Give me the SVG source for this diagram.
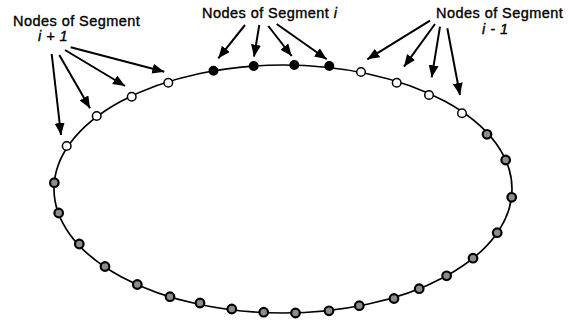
<svg xmlns="http://www.w3.org/2000/svg" width="570" height="324" viewBox="0 0 570 324">
<defs>
<style>
.lbl{font-family:"Liberation Sans",Arial,sans-serif;font-size:14.5px;letter-spacing:0.45px;fill:#000;stroke:#000;stroke-width:0.35px}
.it{font-style:italic}
.ring{fill:none;stroke:#000;stroke-width:1.7}
.arr{stroke:#000;stroke-width:2;fill:none;marker-end:url(#ah)}
.open{fill:#fff;stroke:#000;stroke-width:1.5}
.full{fill:#000;stroke:#000;stroke-width:1.4}
.shad{fill:#8c8c8c;stroke:#000;stroke-width:2.2}
</style>
<marker id="ah" viewBox="0 0 12 10" refX="12" refY="5" markerWidth="12" markerHeight="10" markerUnits="userSpaceOnUse" orient="auto">
<path d="M0,0 L12,5 L0,10 z" fill="#000"/>
</marker>
</defs>
<rect width="570" height="324" fill="#fff"/>
<g id="ring"><ellipse class="ring" cx="283" cy="189" rx="229" ry="124"/></g>
<g id="connectors">
<line class="arr" x1="51.7" y1="54" x2="61" y2="135"/>
<line class="arr" x1="59.3" y1="55" x2="90" y2="108.3"/>
<line class="arr" x1="65" y1="50" x2="125" y2="86"/>
<line class="arr" x1="70.7" y1="47.3" x2="164.3" y2="71.7"/>
<line class="arr" x1="245" y1="25" x2="218.3" y2="58.3"/>
<line class="arr" x1="259.3" y1="25" x2="254" y2="56.7"/>
<line class="arr" x1="268.3" y1="26" x2="291.7" y2="56"/>
<line class="arr" x1="276.7" y1="24" x2="326.7" y2="59.3"/>
<line class="arr" x1="430" y1="20.7" x2="367.3" y2="59.3"/>
<line class="arr" x1="435" y1="24" x2="404" y2="66.7"/>
<line class="arr" x1="440" y1="26.7" x2="431.7" y2="77.3"/>
<line class="arr" x1="447.3" y1="28.3" x2="460" y2="95"/>
</g>
<g id="label-seg-i-plus-1"><text class="lbl" x="13" y="26">Nodes of Segment</text><text class="lbl it" x="38" y="41">i + 1</text></g>
<g id="label-seg-i"><text class="lbl" x="202" y="18">Nodes of Segment <tspan class="it">i</tspan></text></g>
<g id="label-seg-i-minus-1"><text class="lbl" x="436" y="18">Nodes of Segment</text><text class="lbl it" x="482" y="34">i - 1</text></g>
<g id="nodes-seg-i-plus-1">
<circle class="open" cx="66.7" cy="146" r="4.3"/>
<circle class="open" cx="96.7" cy="116" r="4.3"/>
<circle class="open" cx="131.7" cy="96.7" r="4.3"/>
<circle class="open" cx="168.3" cy="82.7" r="4.3"/>
</g>
<g id="nodes-seg-i">
<circle class="full" cx="213.5" cy="70.7" r="4.3"/>
<circle class="full" cx="253.7" cy="66" r="4.3"/>
<circle class="full" cx="294.3" cy="65" r="4.3"/>
<circle class="full" cx="329.3" cy="66" r="4.3"/>
</g>
<g id="nodes-seg-i-minus-1">
<circle class="open" cx="361" cy="72" r="4.3"/>
<circle class="open" cx="396.7" cy="82.7" r="4.3"/>
<circle class="open" cx="429" cy="95" r="4.3"/>
<circle class="open" cx="462" cy="113.3" r="4.3"/>
</g>
<g id="nodes-other">
<circle class="shad" cx="487" cy="134.3" r="4.3"/>
<circle class="shad" cx="505.7" cy="160" r="4.3"/>
<circle class="shad" cx="511.7" cy="197.3" r="4.3"/>
<circle class="shad" cx="497.2" cy="232.7" r="4.3"/>
<circle class="shad" cx="473" cy="258.2" r="4.3"/>
<circle class="shad" cx="446.6" cy="275.8" r="4.3"/>
<circle class="shad" cx="419.2" cy="288.7" r="4.3"/>
<circle class="shad" cx="394" cy="298.5" r="4.3"/>
<circle class="shad" cx="359.3" cy="305.7" r="4.3"/>
<circle class="shad" cx="329" cy="310.8" r="4.3"/>
<circle class="shad" cx="295.5" cy="313" r="4.3"/>
<circle class="shad" cx="263.7" cy="312.2" r="4.3"/>
<circle class="shad" cx="231.8" cy="309" r="4.3"/>
<circle class="shad" cx="200" cy="303" r="4.3"/>
<circle class="shad" cx="170" cy="296.7" r="4.3"/>
<circle class="shad" cx="137.3" cy="284.5" r="4.3"/>
<circle class="shad" cx="105" cy="266.5" r="4.3"/>
<circle class="shad" cx="79.3" cy="244" r="4.3"/>
<circle class="shad" cx="58.7" cy="213" r="4.3"/>
<circle class="shad" cx="54.3" cy="182.7" r="4.3"/>
</g>
</svg>
